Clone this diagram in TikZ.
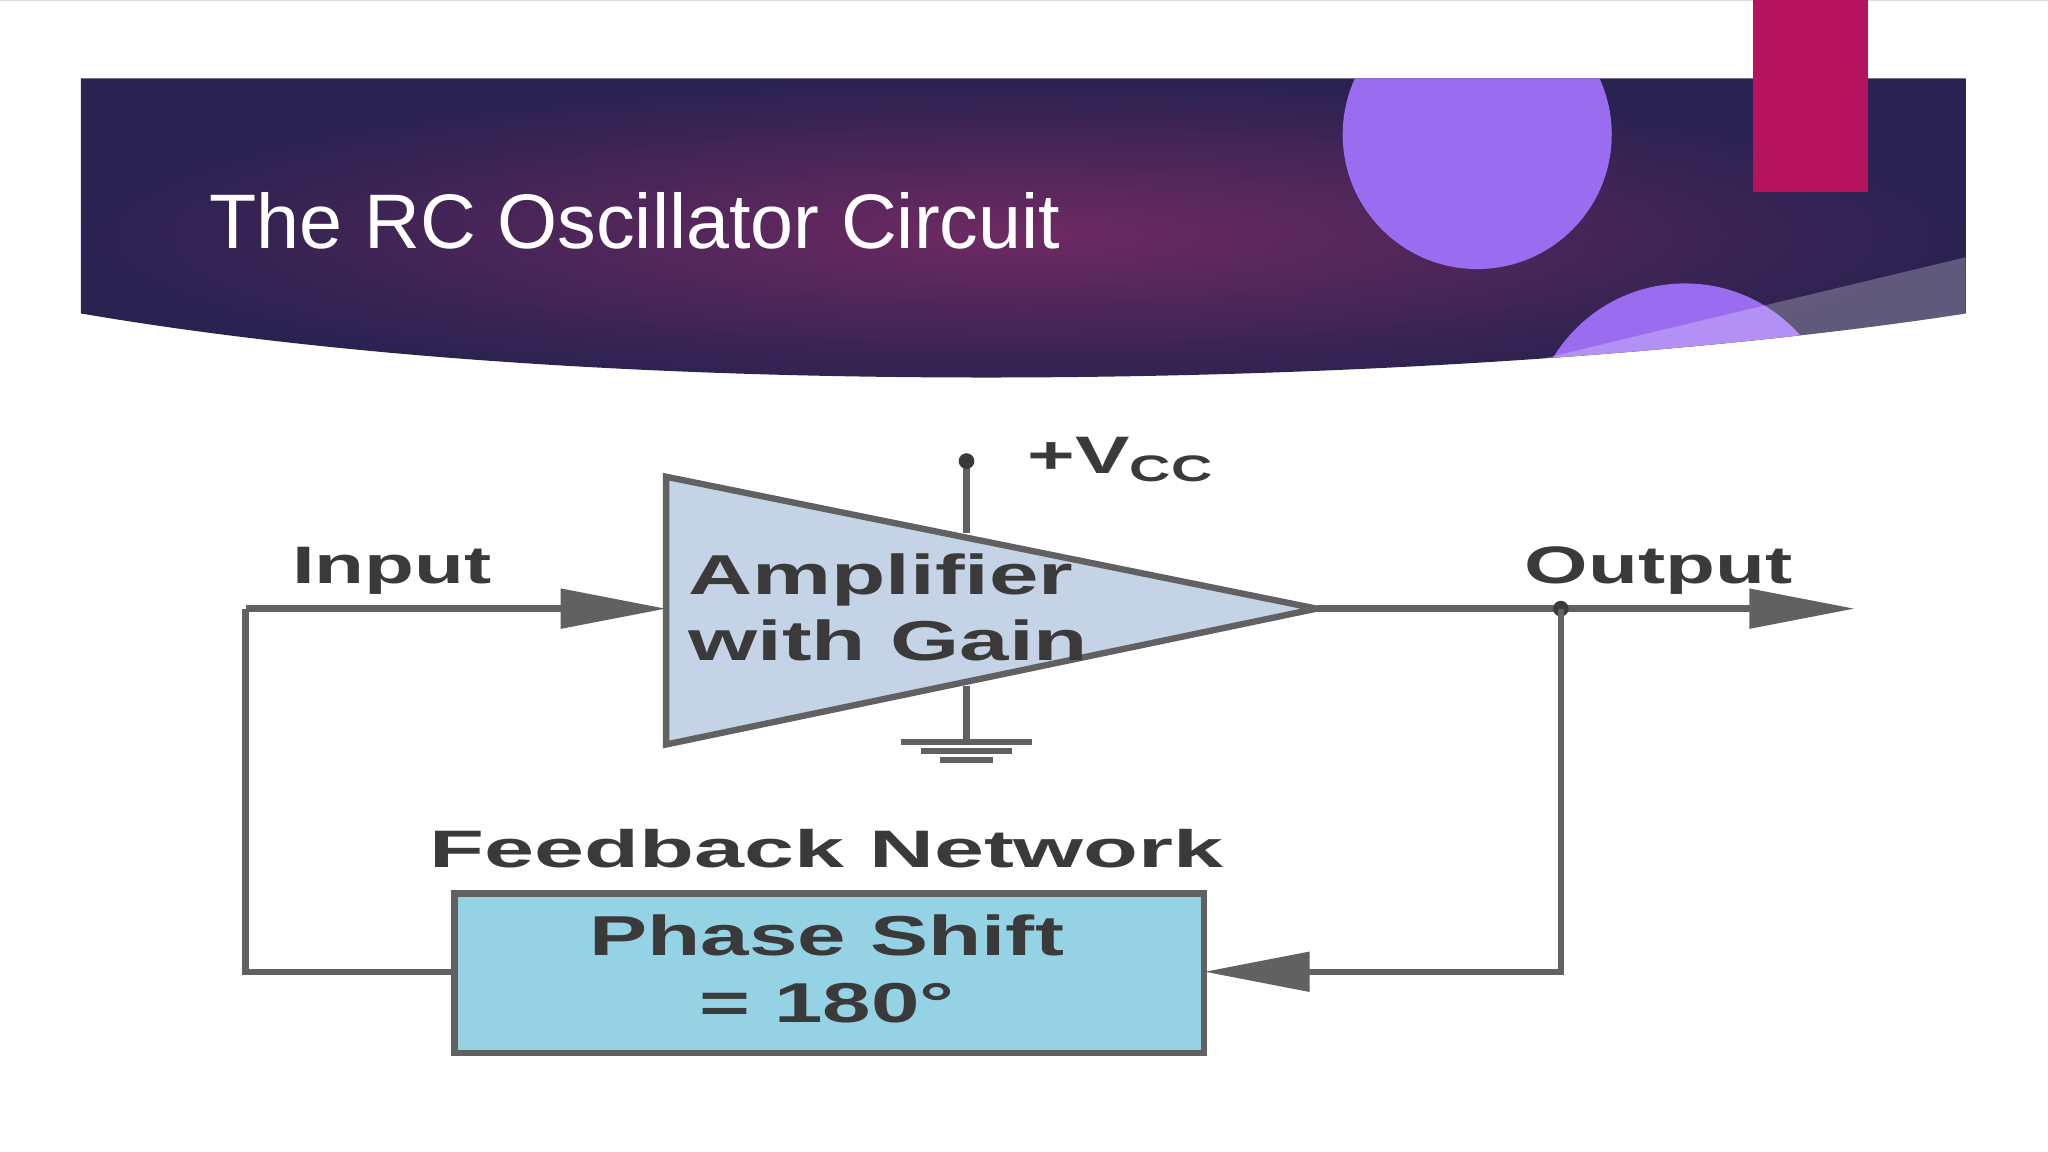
\documentclass[tikz,border=0pt]{standalone}
\usepackage{fontspec}
\setmainfont{Liberation Sans}
\usetikzlibrary{arrows.meta}
\definecolor{bandark}{HTML}{2A2250}
\definecolor{banmid}{HTML}{6E2A62}
\definecolor{lav}{HTML}{9A6CF0}
\definecolor{mag}{HTML}{B5135E}
\definecolor{tri}{HTML}{C5D3E6}
\definecolor{boxc}{HTML}{94D2E4}
\definecolor{ink}{HTML}{3A3A3A}
\tikzset{
  lbl/.style={text=ink,font=\bfseries\fontsize{15}{18}\selectfont,xscale=1.55},
  wire/.style={draw=ink!80,line width=1.8pt},
  arr/.style={-{Triangle[length=30pt,width=11pt]}},
}
\begin{document}
\begin{tikzpicture}[x=0.01306cm,y=-0.01306cm]
\useasboundingbox (0,0) rectangle (1568,882);
\fill[white] (0,0) rectangle (1568,882);
\draw[gray!30] (0,0.5) -- (1568,0.5);
% banner
\begin{scope}
\path[clip] (62,60) -- (1505,60) -- (1505,240) .. controls (1150,295) and (500,315) .. (62,240) -- cycle;
\shade[inner color=banmid, outer color=bandark] (62,60) rectangle (1505,300);
\fill[lav] (1131,103) circle (103);
\fill[lav] (1290,335) circle (118);
\fill[white,opacity=0.25] (1150,282) -- (1505,197) -- (1505,260) -- cycle;
\end{scope}
\fill[mag] (1342,0) rectangle (1430,147);
\node[anchor=base west,text=white,font=\fontsize{22}{26}\selectfont,inner sep=0] (title) at (160,190) {The RC Oscillator Circuit};
% amplifier
\node[lbl,anchor=west] (vccl) at (772,352) {+V\textsubscript{CC}};
\coordinate (vcc) at (740,353);
\coordinate (vccb) at (740,408);
\draw[wire] (vcc) -- (vccb);
\fill[ink] (vcc) circle (6);
\coordinate (gt) at (740,525);
\coordinate (gb) at (740,568);
\draw[wire] (gt) -- (gb);
\draw[wire] (690,568) -- (790,568) (705,575) -- (775,575) (720,582) -- (760,582);
\draw[draw=ink!80,fill=tri,line width=1.8pt] (510,365) -- (1008,466) -- (510,570) -- cycle;
\node[lbl,anchor=west,align=left,font=\bfseries\fontsize{16}{19}\selectfont,xscale=1.02,inner sep=0] (amp) at (526,465) {Amplifier\\with Gain};
\coordinate (tin) at (510,466);
\coordinate (tout) at (1008,466);
% input
\coordinate (il) at (188,466);
\coordinate (ilb) at (188,744);
\node[lbl] (inl) at (300,437) {Input};
\draw[wire,arr] (il) -- (tin);
% output
\coordinate (oend) at (1420,466);
\coordinate (od) at (1195,466);
\coordinate (odb) at (1195,744);
\node[lbl] (outl) at (1270,437) {Output};
\draw[wire,arr] (tout) -- (oend);
\fill[ink] (od) circle (6);
% feedback box
\path[draw=ink!80,line width=1.8pt,fill=boxc] (348,684) rectangle (922,806);
\node[text=ink,align=center,font=\bfseries\fontsize{16}{19}\selectfont,xscale=1.55] (boxt) at (633,742) {Phase Shift\\= 180°};
\coordinate (bl) at (348,744);
\coordinate (br) at (922,744);
\node[lbl,xscale=1.1] (fbl) at (633,650) {Feedback Network};
\draw[wire] (il) -- (ilb) -- (bl);
\draw[wire,arr] (od) -- (odb) -- (br);
\end{tikzpicture}
\end{document}
